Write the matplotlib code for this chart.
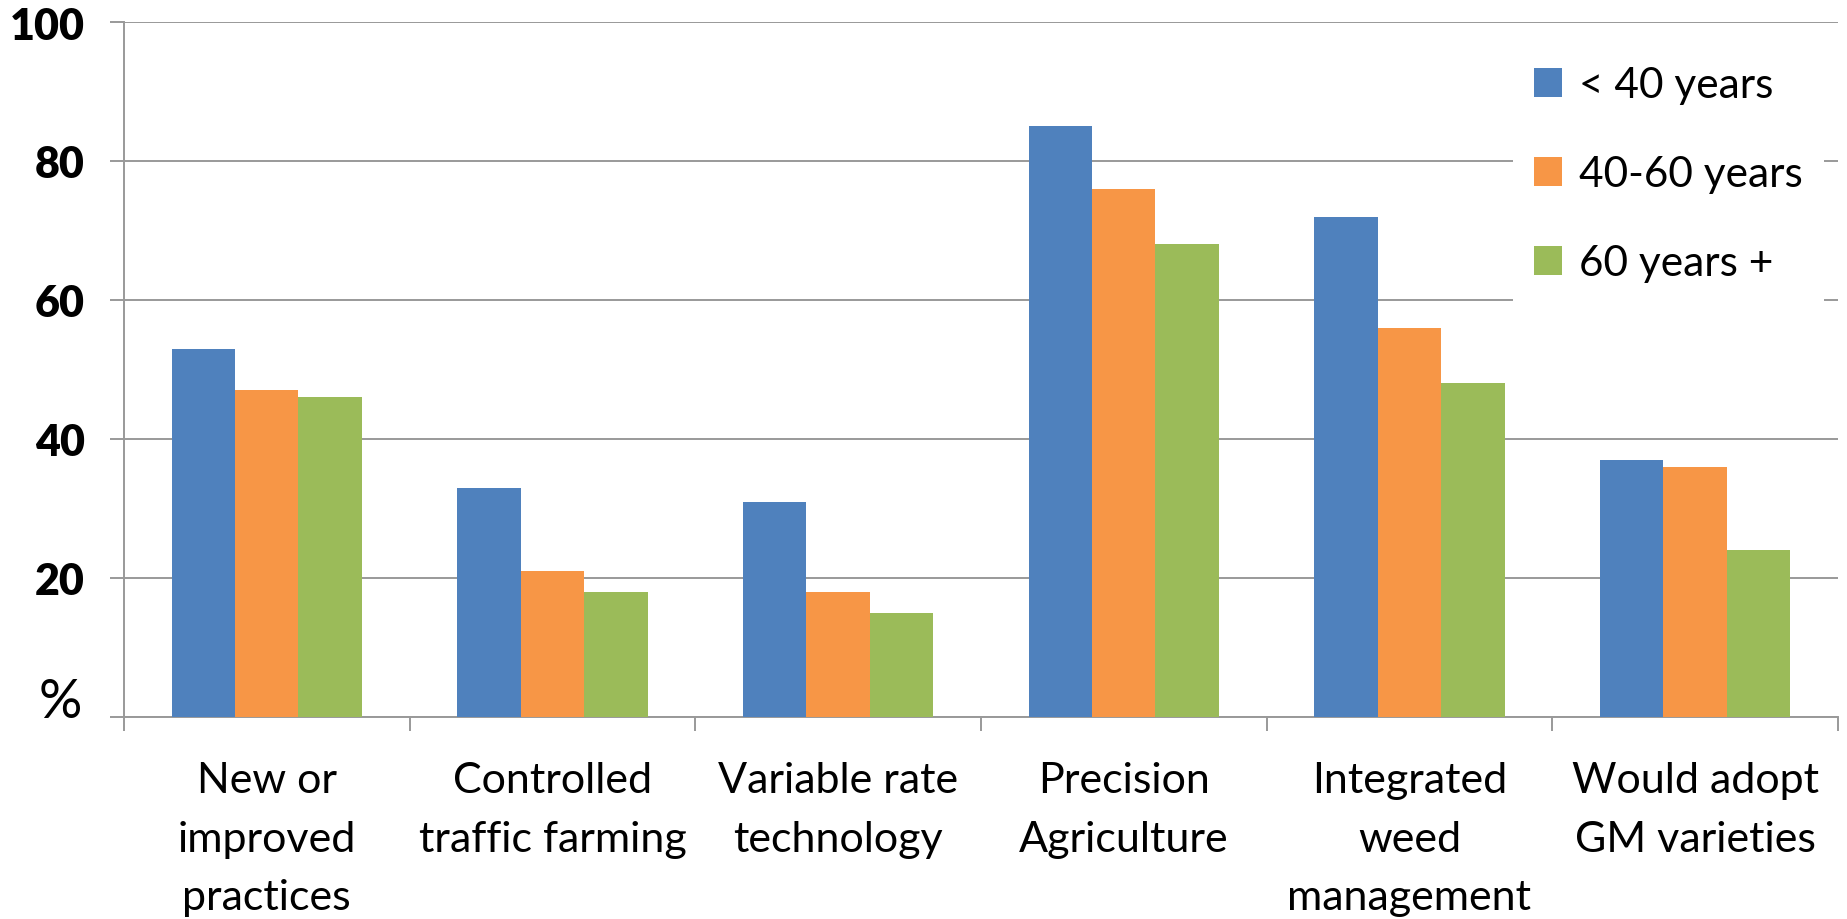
import numpy as np
import matplotlib.pyplot as plt

# share of farmers (%) by age group
categories = ['New or\nimproved\npractices', 'Controlled\ntraffic farming', 'Variable rate\ntechnology',
              'Precision\nAgriculture', 'Integrated\nweed\nmanagement', 'Would adopt\nGM varieties']
under_40 = [53, 33, 31, 85, 72, 37]
from_40_to_60 = [47, 21, 18, 76, 56, 36]
over_60 = [46, 18, 15, 68, 48, 24]
series_names = ['< 40 years', '40-60 years', '60 years +']
colors = ['#4f81bd', '#f79646', '#9bbb59']

plt.rcParams['font.family'] = ['Lato', 'DejaVu Sans']
grid_col = '#999999'

fig = plt.figure(figsize=(18.47, 9.2), dpi=100)
ax = fig.add_axes([0.0671, 0.2196, 0.928, 0.7554])

x = np.arange(len(categories))
w = 0.222
ax.bar(x - w, under_40, w, color=colors[0], label=series_names[0], zorder=3)
ax.bar(x, from_40_to_60, w, color=colors[1], label=series_names[1], zorder=3)
ax.bar(x + w, over_60, w, color=colors[2], label=series_names[2], zorder=3)

ax.set_xlim(-0.5, len(categories) - 0.5)
ax.set_ylim(0, 100)
ax.set_yticks(range(0, 101, 20))
ax.set_yticklabels([''] + [str(v) for v in range(20, 101, 20)], fontsize=31, fontweight='heavy')
ax.yaxis.grid(True, color=grid_col, linewidth=1.4, zorder=0)

# category boundaries as ticks, labels centred between them
ax.set_xticks(np.arange(-0.5, len(categories), 1.0))
ax.set_xticklabels([])
ax.set_xticks(x, minor=True)
ax.set_xticklabels(categories, minor=True, fontsize=31, linespacing=1.65)
ax.tick_params(axis='x', which='minor', length=0, pad=32)
ax.tick_params(axis='x', which='major', length=10, width=1.4, color=grid_col)
ax.tick_params(axis='y', length=10, width=1.4, color=grid_col, pad=18)

for s in ['top', 'right']:
    ax.spines[s].set_visible(False)
for s in ['left', 'bottom']:
    ax.spines[s].set_color(grid_col)
    ax.spines[s].set_linewidth(1.4)

ax.text(-0.037, 0.0, '%', transform=ax.transAxes, fontsize=39, fontweight='normal',
        ha='center', va='baseline')

leg = ax.legend(loc='upper left', bbox_to_anchor=(0.798, 0.997), fontsize=30.5,
                frameon=True, fancybox=False, edgecolor='none', framealpha=1,
                handlelength=0.66, handleheight=0.66, handletextpad=0.4,
                labelspacing=1.2, borderpad=0.5)
leg.set_zorder(5)

plt.savefig('out.png', dpi=100)
